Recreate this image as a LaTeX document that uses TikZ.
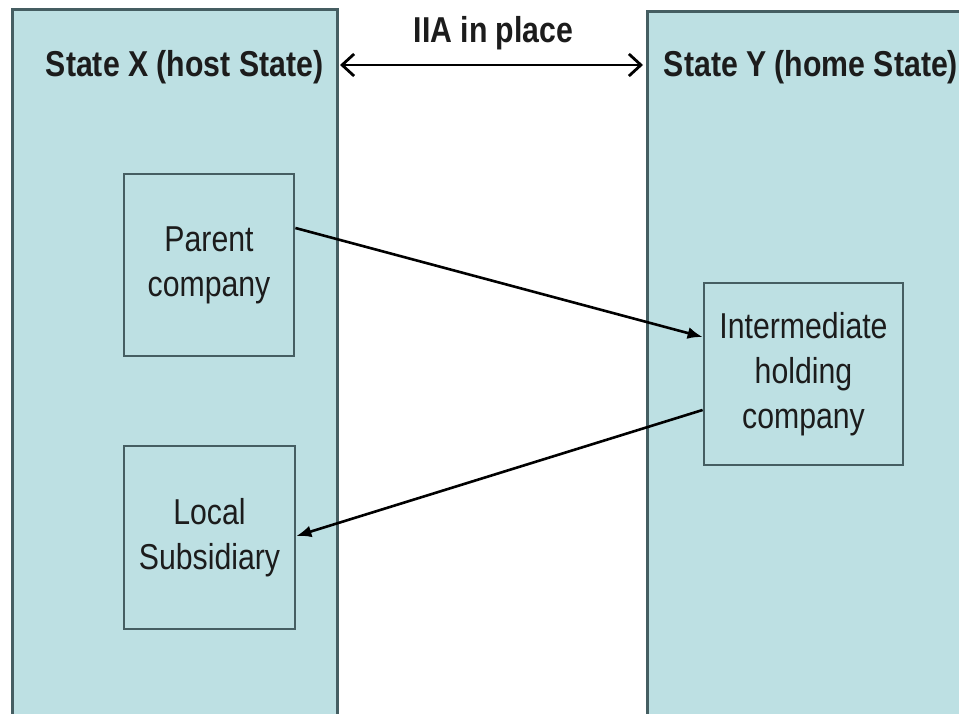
\documentclass[tikz,border=0pt]{standalone}
\usepackage{fontspec}
\setmainfont{Liberation Sans}[FakeStretch=0.84]
\usetikzlibrary{arrows.meta}
\definecolor{panel}{HTML}{BDE0E3}
\definecolor{edge}{HTML}{455E62}
\definecolor{ink}{HTML}{1C1C1C}

\tikzset{
  statebox/.style={draw=edge, fill=panel, line width=3pt, inner sep=0pt},
  entity/.style={draw=edge, fill=panel, line width=2.8pt, inner sep=0pt,
    align=center, text=ink, font=\fontsize{36}{45}\selectfont},
  heading/.style={anchor=base, text=ink, inner sep=0pt,
    font=\fontsize{36}{45}\selectfont\bfseries},
  link/.style={draw=black, line width=2.6pt, -{Latex[length=15pt,width=12pt]}},
  treaty/.style={draw=black, line width=2.8pt,
    {Straight Barb[length=12pt,width=22pt,line width=2.8pt]}-{Straight Barb[length=12pt,width=22pt,line width=2.8pt]}}
}

\begin{document}
\begin{tikzpicture}[x=1pt,y=-1pt]
  \useasboundingbox (0,0) rectangle (959,714);
  \fill[white] (0,0) rectangle (959,714);

  % the two States
  \node[statebox, minimum width=325pt, minimum height=720pt] (sx) at (174.5,370) {};
  \node[statebox, minimum width=340pt, minimum height=718pt] (sy) at (817,371) {};

  \node[heading] (tx) at (184.5,77) {State X (host State)};
  \node[heading] (ty) at (811,77) {State Y (home State)};
  \node[heading] (iia) at (493.5,43) {IIA in place};

  % companies
  \node[entity, minimum width=170pt, minimum height=182pt] (pc) at (209,265) {Parent\\company};
  \node[entity, minimum width=171pt, minimum height=183pt] (ls) at (209.5,537.5) {Local\\Subsidiary};
  \node[entity, minimum width=199pt, minimum height=182pt] (ih) at (803.5,374) {Intermediate\\holding\\company};

  % treaty between the States
  \coordinate (ta) at (340,65);
  \coordinate (tb) at (643,65);
  \draw[treaty] (ta) -- (tb);

  % ownership chain
  \draw[link] ([yshift=37pt]pc.east) -- ([yshift=37pt]ih.west);
  \draw[link] ([yshift=-36pt]ih.west) -- ([yshift=1.5pt]ls.east);
\end{tikzpicture}
\end{document}
